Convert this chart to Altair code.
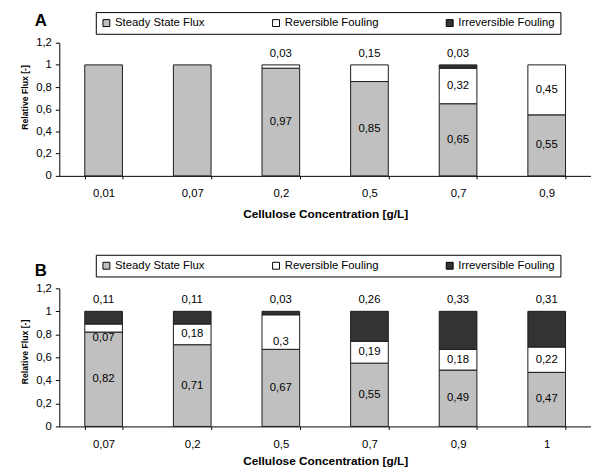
import altair as alt
import pandas as pd

FONT = "Liberation Sans"

series = ["Steady State Flux", "Reversible Fouling", "Irreversible Fouling"]
series_colors = ["#c0c0c0", "#ffffff", "#333333"]

# Panel A
a_conc = ["0,01", "0,07", "0,2", "0,5", "0,7", "0,9"]
a_steady = [1.0, 1.0, 0.97, 0.85, 0.65, 0.55]
a_rev = [0.0, 0.0, 0.03, 0.15, 0.32, 0.45]
a_irr = [0.0, 0.0, 0.0, 0.0, 0.03, 0.0]

# Panel B
b_conc = ["0,07", "0,2", "0,5", "0,7", "0,9", "1"]
b_steady = [0.82, 0.71, 0.67, 0.55, 0.49, 0.47]
b_rev = [0.07, 0.18, 0.30, 0.19, 0.18, 0.22]
b_irr = [0.11, 0.11, 0.03, 0.26, 0.33, 0.31]

# reversible labels that the original moved slightly down
b_low_rev = ["0,07", "0,5"]

y_ticks = [0, 0.2, 0.4, 0.6, 0.8, 1.0, 1.2]


def fmt(v):
    return f"{v:g}".replace(".", ",")


def build_frame(conc, steady, rev, irr, low_rev):
    rows = []
    for i, c in enumerate(conc):
        vals = [steady[i], rev[i], irr[i]]
        nz = [k for k, v in enumerate(vals) if v > 0]
        top_k = max(nz)
        base = 0.0
        for k, v in enumerate(vals):
            if v <= 0:
                continue
            y0, y1 = base, base + v
            base = y1
            if v >= 1:
                place = "none"
            elif k == top_k and v < 0.4:
                place = "top"
            elif k == 1 and c in low_rev:
                place = "low"
            else:
                place = "mid"
            rows.append(dict(conc=c, series=series[k], order=k, y0=y0, y1=y1,
                             mid=(y0 + y1) / 2, label=fmt(v), place=place))
    return pd.DataFrame(rows)


def panel(df, conc, letter, legend_x, legend_y, width, height, title_pad, letter_dy,
          ytitle_y):
    def xenc():
        return alt.X("conc:N", sort=conc,
                     scale=alt.Scale(paddingInner=0.575, paddingOuter=0.2875),
                     axis=alt.Axis(title="Cellulose Concentration [g/L]", labelAngle=0,
                                   tickBand="extent", tickSize=3, labelPadding=9,
                                   titlePadding=title_pad, titleFontSize=12,
                                   labelFontSize=11.5))

    def yenc(field):
        return alt.Y(field, scale=alt.Scale(domain=[0, 1.2], nice=False),
                     axis=alt.Axis(title="Relative Flux [-]", values=y_ticks, tickSize=4,
                                   labelPadding=4, titlePadding=6, titleFontSize=8.8,
                                   titleY=ytitle_y, labelFontSize=11.5,
                                   labelExpr="replace(format(datum.value, '~g'), '.', ',')"))

    bars = alt.Chart(df).mark_bar(stroke="#1a1a1a", strokeWidth=1).encode(
        x=xenc(),
        y=yenc("y1:Q"),
        y2="y0:Q",
        color=alt.Color("series:N",
                        scale=alt.Scale(domain=series, range=series_colors),
                        legend=alt.Legend(orient="none", legendX=legend_x, legendY=legend_y,
                                          direction="horizontal", title=None,
                                          symbolType="square", symbolSize=49,
                                          symbolStrokeColor="#000", symbolStrokeWidth=1,
                                          labelFont=FONT, labelFontSize=11.5,
                                          labelColor="#000", labelOffset=3,
                                          strokeColor="#000", padding=5,
                                          columnPadding=66)),
        order=alt.Order("order:Q"),
    )
    txt = dict(font=FONT, fontSize=11.5, color="#000")
    mid = alt.Chart(df).transform_filter("datum.place == 'mid'").mark_text(**txt).encode(
        x=xenc(), y=yenc("mid:Q"), text="label:N")
    low = alt.Chart(df).transform_filter("datum.place == 'low'").mark_text(dy=10, **txt).encode(
        x=xenc(), y=yenc("mid:Q"), text="label:N")
    top = alt.Chart(df).transform_filter("datum.place == 'top'").mark_text(dy=-11, **txt).encode(
        x=xenc(), y=yenc("y1:Q"), text="label:N")
    return alt.layer(bars, mid, low, top).properties(
        width=width, height=height,
        title=alt.TitleParams(letter, anchor="start", frame="group", font=FONT, fontSize=17,
                              fontWeight="bold", color="#000", dx=-25, dy=letter_dy,
                              offset=2),
    )


df_a = build_frame(a_conc, a_steady, a_rev, a_irr, [])
df_b = build_frame(b_conc, b_steady, b_rev, b_irr, b_low_rev)

pa = panel(df_a, a_conc, "A", 37, -31, 539, 135, 10, 21, 55)
pb = panel(df_b, b_conc, "B", 37, -34, 539, 140, 6, 28, 64)

chart = alt.vconcat(pa, pb, spacing=34).resolve_scale(
    color="independent", x="independent", y="independent"
).resolve_legend(color="independent").properties(
    padding={"left": 13, "top": 0, "right": 0, "bottom": 0}
).configure_view(stroke=None).configure_axis(
    grid=False, domainColor="#000", tickColor="#000", labelColor="#000",
    titleColor="#000", labelFont=FONT, titleFont=FONT, titleFontWeight="bold"
)

chart.save("out.html", embed_options={"renderer": "svg", "actions": False})
